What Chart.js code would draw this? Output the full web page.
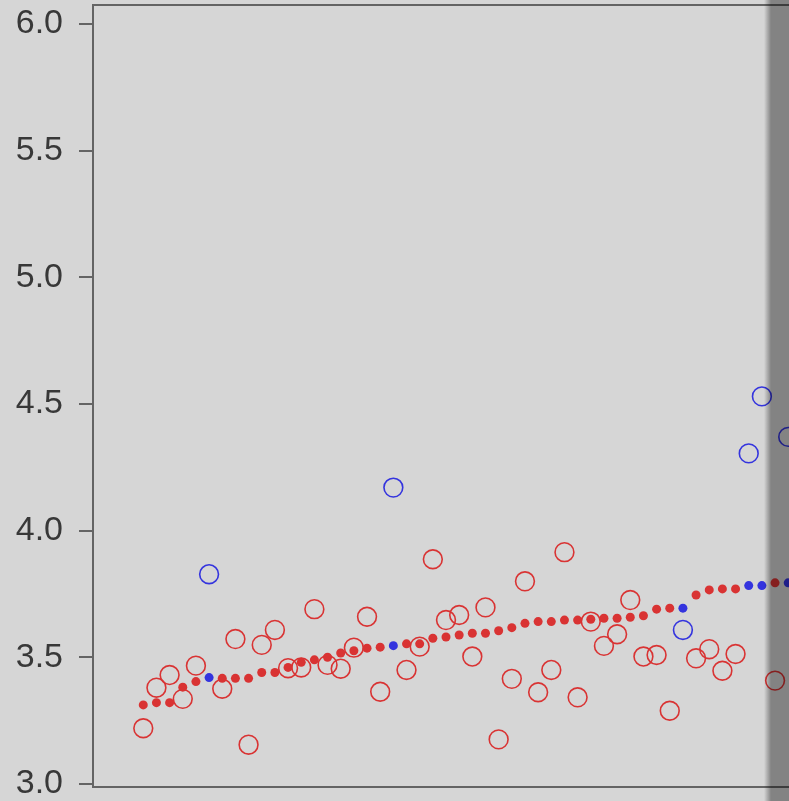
<!DOCTYPE html>
<html>
<head>
<meta charset="utf-8">
<script src="https://cdn.jsdelivr.net/npm/chart.js@4.4.1/dist/chart.umd.min.js"></script>
<style>
  html, body { margin: 0; padding: 0; background: #d6d6d6; overflow: hidden; }
  #wrap { width: 789px; height: 801px; position: relative; }
</style>
</head>
<body>
<div id="wrap"><canvas id="c"></canvas></div>
<script>
// Observation order along the horizontal axis
const position = [1, 2, 3, 4, 5, 6, 7, 8, 9, 10,
  11, 12, 13, 14, 15, 16, 17, 18, 19, 20,
  21, 22, 23, 24, 25, 26, 27, 28, 29, 30,
  31, 32, 33, 34, 35, 36, 37, 38, 39, 40,
  41, 42, 43, 44, 45, 46, 47, 48, 49, 50];

// Fitted values (filled dots), already in ascending order
const fitted = [3.312, 3.321, 3.321, 3.382, 3.404, 3.420, 3.417, 3.417, 3.417, 3.440,
  3.440, 3.460, 3.480, 3.490, 3.500, 3.517, 3.526, 3.536, 3.540, 3.546,
  3.553, 3.553, 3.575, 3.580, 3.588, 3.595, 3.595, 3.605, 3.617, 3.634,
  3.641, 3.641, 3.647, 3.647, 3.650, 3.654, 3.654, 3.658, 3.664, 3.690,
  3.694, 3.694, 3.746, 3.766, 3.770, 3.770, 3.783, 3.783, 3.794, 3.794];

// Observed values (open circles)
const observed = [3.220, 3.380, 3.430, 3.336, 3.467, 3.828, 3.376, 3.572, 3.155, 3.549,
  3.608, 3.457, 3.460, 3.690, 3.470, 3.455, 3.538, 3.660, 3.364, 4.170,
  3.450, 3.542, 3.887, 3.647, 3.667, 3.503, 3.697, 3.176, 3.415, 3.800,
  3.362, 3.450, 3.915, 3.342, 3.641, 3.545, 3.591, 3.726, 3.503, 3.509,
  3.289, 3.608, 3.496, 3.532, 3.447, 3.513, 4.305, 4.530, 3.408, 4.370];

// Group of each observation: "A" drawn red, "B" drawn blue
const group = ["A", "A", "A", "A", "A", "B", "A", "A", "A", "A",
  "A", "A", "A", "A", "A", "A", "A", "A", "A", "B",
  "A", "A", "A", "A", "A", "A", "A", "A", "A", "A",
  "A", "A", "A", "A", "A", "A", "A", "A", "A", "A",
  "A", "B", "A", "A", "A", "A", "B", "B", "A", "B"];

// Y axis tick labels
const yTicks = [3.0, 3.5, 4.0, 4.5, 5.0, 5.5, 6.0];

const RED = '#d93333';
const BLUE = '#3434de';
const AXIS = '#646464';
const colorOf = g => (g === 'B' ? BLUE : RED);

const dotPoints = position.map((p, i) => ({ x: p, y: fitted[i] }));
const circlePoints = position.map((p, i) => ({ x: p, y: observed[i] }));

// Fixed scale sizes, with no extra room reserved for label overflow
const fixSize = (w, h) => s => {
  if (w !== null) s.width = w;
  if (h !== null) s.height = h;
  s.paddingTop = 0; s.paddingBottom = 0; s.paddingLeft = 0; s.paddingRight = 0;
};

// Panel background, and the darker band at the right edge
const panel = {
  id: 'panel',
  beforeDraw(chart) {
    const { ctx, width, height } = chart;
    ctx.save();
    ctx.fillStyle = '#d6d6d6';
    ctx.fillRect(0, 0, width, height);
    ctx.restore();
  },
  afterDraw(chart) {
    const { ctx, width, height } = chart;
    const x0 = 764, x1 = 771;
    ctx.save();
    const g = ctx.createLinearGradient(x0, 0, x1, 0);
    g.addColorStop(0, 'rgba(0,0,0,0)');
    g.addColorStop(1, 'rgba(0,0,0,0.39)');
    ctx.fillStyle = g;
    ctx.fillRect(x0, 0, x1 - x0, height);
    ctx.fillStyle = 'rgba(0,0,0,0.39)';
    ctx.fillRect(x1, 0, width - x1, height);
    ctx.restore();
  }
};

new Chart(document.getElementById('c'), {
  type: 'scatter',
  data: {
    datasets: [
      {
        label: 'fitted',
        data: dotPoints,
        pointRadius: 4.5,
        pointHoverRadius: 4.5,
        pointBorderWidth: 0,
        pointBackgroundColor: group.map(colorOf),
        pointBorderColor: group.map(colorOf),
        clip: false
      },
      {
        label: 'observed',
        data: circlePoints,
        pointRadius: 9.4,
        pointHoverRadius: 9.4,
        pointBorderWidth: 1.6,
        pointBackgroundColor: 'rgba(0,0,0,0)',
        pointBorderColor: group.map(colorOf),
        clip: false
      }
    ]
  },
  options: {
    responsive: true,
    maintainAspectRatio: false,
    animation: false,
    devicePixelRatio: 1,
    layout: { padding: 0, autoPadding: false },
    plugins: { legend: { display: false }, tooltip: { enabled: false } },
    scales: {
      x: {
        type: 'linear',
        position: 'bottom',
        min: -2.82,
        max: 50.06,
        ticks: { display: false },
        grid: { display: false },
        border: { display: true, color: AXIS, width: 2 },
        afterFit: fixSize(null, 14)
      },
      xTop: {
        type: 'linear',
        position: 'top',
        min: -2.82,
        max: 50.06,
        ticks: { display: false },
        grid: { display: false },
        border: { display: true, color: AXIS, width: 2 },
        afterFit: fixSize(null, 5)
      },
      y: {
        type: 'linear',
        position: 'left',
        min: 2.988,
        max: 6.075,
        afterBuildTicks: s => { s.ticks = yTicks.map(v => ({ value: v })); },
        ticks: {
          padding: 16,
          color: '#383838',
          font: { family: '"Liberation Sans", Arial, sans-serif', size: 34 },
          callback: v => Number(v).toFixed(1)
        },
        grid: {
          drawOnChartArea: false,
          drawTicks: true,
          tickLength: 14,
          color: AXIS,
          lineWidth: 2
        },
        border: { display: true, color: AXIS, width: 2 },
        afterFit: fixSize(93, null)
      }
    }
  },
  plugins: [panel]
});
</script>
</body>
</html>
